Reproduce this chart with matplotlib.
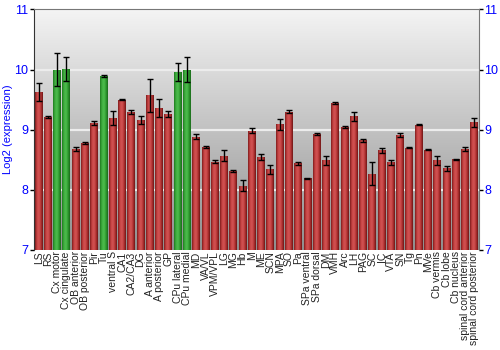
import numpy as np
import matplotlib
matplotlib.use("Agg")
import matplotlib.pyplot as plt
from matplotlib.colors import LinearSegmentedColormap

plt.rcParams["font.family"] = ["Liberation Sans", "DejaVu Sans"]

# ===================== 数据 =====================
regions = [
    "LS", "RS", "Cx motor", "Cx cingulate", "OB anterior", "OB posterior", "Pir", "Tu",
    "ventral S", "CA1", "CA2/CA3", "DG", "A anterior", "A posterior", "GP",
    "CPu lateral", "CPu medial", "MD", "VA/VL", "VPM/VPL", "LG", "MG", "Hb", "M",
    "ME", "SCN", "MPA", "SO", "Pa", "SPa ventral", "SPa dorsal", "DM", "VMH", "Arc",
    "LH", "PAG", "SC", "IC", "VTA", "SN", "Tg", "Pn", "MVe", "Cb vermis", "Cb lobe",
    "Cb nucleus", "spinal cord anterior", "spinal cord posterior",
]

expr = [
    9.63, 9.21, 10.00, 10.01, 8.68, 8.78, 9.11, 9.89,
    9.19, 9.50, 9.29, 9.16, 9.57, 9.36, 9.26,
    9.96, 10.00, 8.88, 8.71, 8.47, 8.57, 8.31, 8.07, 8.98,
    8.54, 8.34, 9.09, 9.30, 8.44, 8.19, 8.93, 8.49, 9.44, 9.04,
    9.22, 8.82, 8.27, 8.66, 8.46, 8.91, 8.70, 9.08, 8.67, 8.49, 8.36,
    8.51, 8.68, 9.12,
]

err = [
    0.15, 0.02, 0.28, 0.20, 0.04, 0.02, 0.03, 0.02,
    0.12, 0.01, 0.03, 0.06, 0.27, 0.15, 0.05,
    0.15, 0.21, 0.04, 0.02, 0.03, 0.09, 0.02, 0.09, 0.04,
    0.05, 0.08, 0.09, 0.02, 0.02, 0.01, 0.02, 0.07, 0.02, 0.02,
    0.07, 0.03, 0.19, 0.04, 0.04, 0.03, 0.01, 0.01, 0.01, 0.08, 0.04,
    0.01, 0.03, 0.07,
]

highlight = ["Cx motor", "Cx cingulate", "Tu", "CPu lateral", "CPu medial"]

# ===================== 样式 =====================
RED_CMAP = LinearSegmentedColormap.from_list(
    "red_bar", ["#7e1c1c", "#c74444", "#d25454", "#b53434", "#6e1616"])
GREEN_CMAP = LinearSegmentedColormap.from_list(
    "green_bar", ["#1f7a1f", "#3fae3f", "#4dbd4d", "#309a30", "#1a6a1a"])
BG_CMAP = LinearSegmentedColormap.from_list("bg", ["#8f8f8f", "#f4f4f4"])
BLUE = "#0000ff"

fig = plt.figure(figsize=(5, 3.5), dpi=100)
ax = fig.add_axes([0.068, 0.286, 0.89, 0.687])

x = np.arange(len(regions))
y_min, y_max = 7, 11
bar_w = 0.86

# 背景渐变
grad = np.linspace(0, 1, 256).reshape(-1, 1)
ax.imshow(grad, aspect="auto", cmap=BG_CMAP, origin="lower",
          extent=[-0.5, len(regions) - 0.5, y_min, y_max], zorder=0)

for yv in [8, 9, 10]:
    ax.axhline(yv, color="#ececec", lw=1.6, zorder=1)

bars = ax.bar(x, np.array(expr) - y_min, bottom=y_min, width=bar_w,
              color="none", edgecolor="none", zorder=2)

# 柱体横向渐变
hgrad = np.linspace(0, 1, 64).reshape(1, -1)
for i, b in enumerate(bars):
    cmap = GREEN_CMAP if regions[i] in highlight else RED_CMAP
    im = ax.imshow(hgrad, aspect="auto", cmap=cmap,
                   extent=[x[i] - bar_w / 2, x[i] + bar_w / 2, y_min, expr[i]],
                   zorder=2)
    im.set_clip_path(b)

ax.errorbar(x, expr, yerr=err, fmt="none", ecolor="black", elinewidth=1,
            capsize=2.5, capthick=1, zorder=3)

ax.set_xlim(-0.5, len(regions) - 0.5)
ax.set_ylim(y_min, y_max)

# ===================== 坐标轴 =====================
ax.set_xticks(x)
ax.set_xticklabels(regions, rotation=90, fontsize=7.5, color="#222222")
ax.tick_params(axis="x", length=0, pad=1)

ax.set_yticks([7, 8, 9, 10, 11])
ax.tick_params(axis="y", labelsize=9, labelcolor=BLUE, length=3, width=1,
               direction="out", left=True, right=True, labelleft=True,
               labelright=True, pad=1)
ax.set_ylabel("Log2 (expression)", color=BLUE, fontsize=8)
ax.yaxis.set_label_coords(-0.048, 0.5)

ax.spines["left"].set_color("#333333")
ax.spines["right"].set_color("#777777")
ax.spines["top"].set_color("#777777")
ax.spines["bottom"].set_visible(False)

fig.savefig("out.png", dpi=100, facecolor="white")
